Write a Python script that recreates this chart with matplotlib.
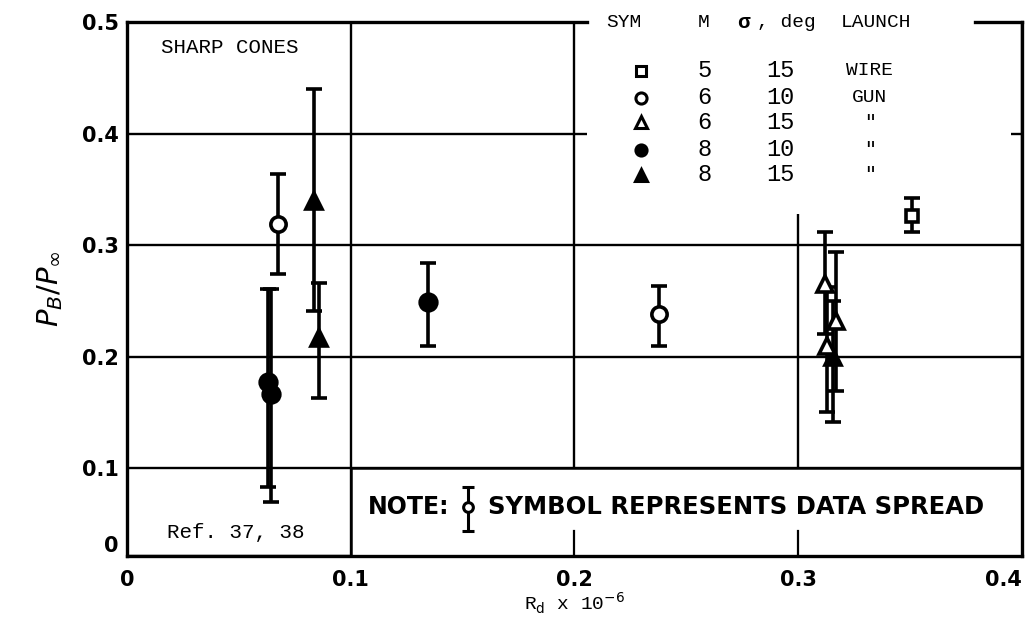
import matplotlib.pyplot as plt
from matplotlib.patches import Rectangle

# data spread for each run: x = Rd x 1e-6, y = Pb/Pinf, with low / high ends of the spread
circ_open_x = [0.0676, 0.2377]
circ_open_y = [0.319, 0.238]
circ_open_lo = [0.274, 0.209]
circ_open_hi = [0.364, 0.263]

circ_fill_x = [0.063, 0.0645, 0.1345]
circ_fill_y = [0.177, 0.166, 0.249]
circ_fill_lo = [0.083, 0.0695, 0.209]
circ_fill_hi = [0.261, 0.261, 0.284]

tri_open_x = [0.312, 0.317, 0.313]
tri_open_y = [0.265, 0.232, 0.209]
tri_open_lo = [0.220, 0.169, 0.150]
tri_open_hi = [0.312, 0.294, 0.262]

tri_fill_x = [0.0838, 0.086, 0.3155]
tri_fill_y = [0.340, 0.217, 0.200]
tri_fill_lo = [0.241, 0.163, 0.141]
tri_fill_hi = [0.440, 0.266, 0.250]

sq_x = [0.351]
sq_y = [0.326]
sq_lo = [0.312]
sq_hi = [0.342]

# key table
key_sym = ['s', 'o', '^', 'o', '^']
key_fill = [False, False, False, True, True]
key_M = ['5', '6', '6', '8', '8']
key_sigma = ['15', '10', '15', '10', '15']
key_launch = ['WIRE', 'GUN', '"', '"', '"']

# the original's bottom division is drawn short; the "0" line sits at this value
Y_BOTTOM = 0.021
xticks = [0, 0.1, 0.2, 0.3, 0.4]
xtick_labels = ['0', '0.1', '0.2', '0.3', '0.4']
yticks = [Y_BOTTOM, 0.1, 0.2, 0.3, 0.4, 0.5]
ytick_labels = ['0', '0.1', '0.2', '0.3', '0.4', '0.5']

mono = 'Liberation Mono'

fig = plt.figure(figsize=(10.3, 6.34), dpi=100)
ax = fig.add_axes([0.1233, 0.123, 0.8687, 0.842])
ax.set_xlim(0, 0.4)
ax.set_ylim(Y_BOTTOM, 0.5)
ax.set_xticks(xticks)
ax.set_xticklabels(xtick_labels)
ax.set_yticks(yticks)
ax.set_yticklabels(ytick_labels)
ax.tick_params(length=0)
ax.tick_params(axis='x', pad=10)
ax.tick_params(axis='y', pad=6)
for lab in ax.get_xticklabels() + ax.get_yticklabels():
    lab.set_fontsize(15)
    lab.set_fontweight('bold')
ax.get_xticklabels()[-1].set_horizontalalignment('right')
ax.get_yticklabels()[0].set_verticalalignment('bottom')

for s in ['left', 'right', 'bottom']:
    ax.spines[s].set_linewidth(2.4)
ax.spines['top'].set_visible(False)
ax.plot([0, 0.2055], [0.5, 0.5], color='black', lw=2.4, clip_on=False, zorder=3)
ax.plot([0.379, 0.4], [0.5, 0.5], color='black', lw=2.4, clip_on=False, zorder=3)

ax.grid(True, color='black', lw=1.7)
ax.set_axisbelow(True)

# blank area behind the key
ax.add_patch(Rectangle((0.2058, 0.328), 0.1892, 0.18, facecolor='white',
                       edgecolor='none', zorder=1, clip_on=False))
# note box
ax.add_patch(Rectangle((0.1, Y_BOTTOM), 0.3, 0.1 - Y_BOTTOM, facecolor='white',
                       edgecolor='black', lw=1.8, zorder=1))
for xs in [0.2, 0.3]:
    ax.plot([xs, xs], [Y_BOTTOM, Y_BOTTOM + 0.022], color='black', lw=1.6, zorder=1.2)


def spread(x, y, lo, hi, marker, filled, ms=11):
    err = [[yy - l for yy, l in zip(y, lo)], [h - yy for yy, h in zip(y, hi)]]
    ax.errorbar(x, y, yerr=err, fmt=marker, ms=ms, color='black',
                mfc='black' if filled else 'white', mec='black', mew=2.6,
                elinewidth=2.6, capsize=6, capthick=2.6, zorder=3)


spread(tri_fill_x, tri_fill_y, tri_fill_lo, tri_fill_hi, '^', True)
spread(tri_open_x, tri_open_y, tri_open_lo, tri_open_hi, '^', False)
spread(circ_fill_x, circ_fill_y, circ_fill_lo, circ_fill_hi, 'o', True, ms=12)
spread(circ_open_x, circ_open_y, circ_open_lo, circ_open_hi, 'o', False)
spread(sq_x, sq_y, sq_lo, sq_hi, 's', False, ms=9)

# key
ax.text(0.222, 0.5, 'SYM', family=mono, fontsize=14, ha='center', va='center', zorder=4)
ax.text(0.258, 0.5, 'M', family=mono, fontsize=14, ha='center', va='center', zorder=4)
ax.text(0.2755, 0.5, 'σ', family=mono, fontsize=15, weight='bold', ha='center', va='center', zorder=4)
ax.text(0.2815, 0.5, ', deg', family=mono, fontsize=14, ha='left', va='center', zorder=4)
ax.text(0.335, 0.5, 'LAUNCH', family=mono, fontsize=14, ha='center', va='center', zorder=4)
key_rows = [0.4565, 0.432, 0.41, 0.3857, 0.363]
for i in range(len(key_M)):
    yy = key_rows[i]
    ax.plot([0.230], [yy], marker=key_sym[i], ms=8 if key_sym[i] != 's' else 7,
            mfc='black' if key_fill[i] else 'white', mec='black', mew=2.2,
            ls='none', zorder=4)
    ax.text(0.258, yy, key_M[i], family=mono, fontsize=17, ha='center', va='center', zorder=4)
    ax.text(0.292, yy, key_sigma[i], family=mono, fontsize=17, ha='center', va='center', zorder=4)
    ax.text(0.332, yy, key_launch[i], family=mono, fontsize=14, ha='center', va='center', zorder=4)

ax.text(0.015, 0.477, 'SHARP CONES', family=mono, fontsize=15, ha='left', va='center')
ax.text(0.018, 0.042, 'Ref. 37, 38', family=mono, fontsize=15, ha='left', va='center', zorder=4)

# note
ax.text(0.1075, 0.065, 'NOTE:', fontsize=17, weight='bold', ha='left', va='center', zorder=4)
ax.errorbar([0.1525], [0.065], yerr=[[0.0215], [0.018]], fmt='o', ms=7, color='black',
            mfc='white', mec='black', mew=2.2, elinewidth=2.2, capsize=4, capthick=2.2, zorder=4)
ax.text(0.1615, 0.065, 'SYMBOL REPRESENTS DATA SPREAD', fontsize=17.5, weight='bold',
        ha='left', va='center', zorder=4)

ax.set_xlabel(r'R$_\mathrm{d}$ x 10$^{-6}$', family=mono, fontsize=14, labelpad=1)
ax.set_ylabel(r'$P_B/P_\infty$', fontsize=21, labelpad=12)

fig.savefig('out.png', dpi=100)
